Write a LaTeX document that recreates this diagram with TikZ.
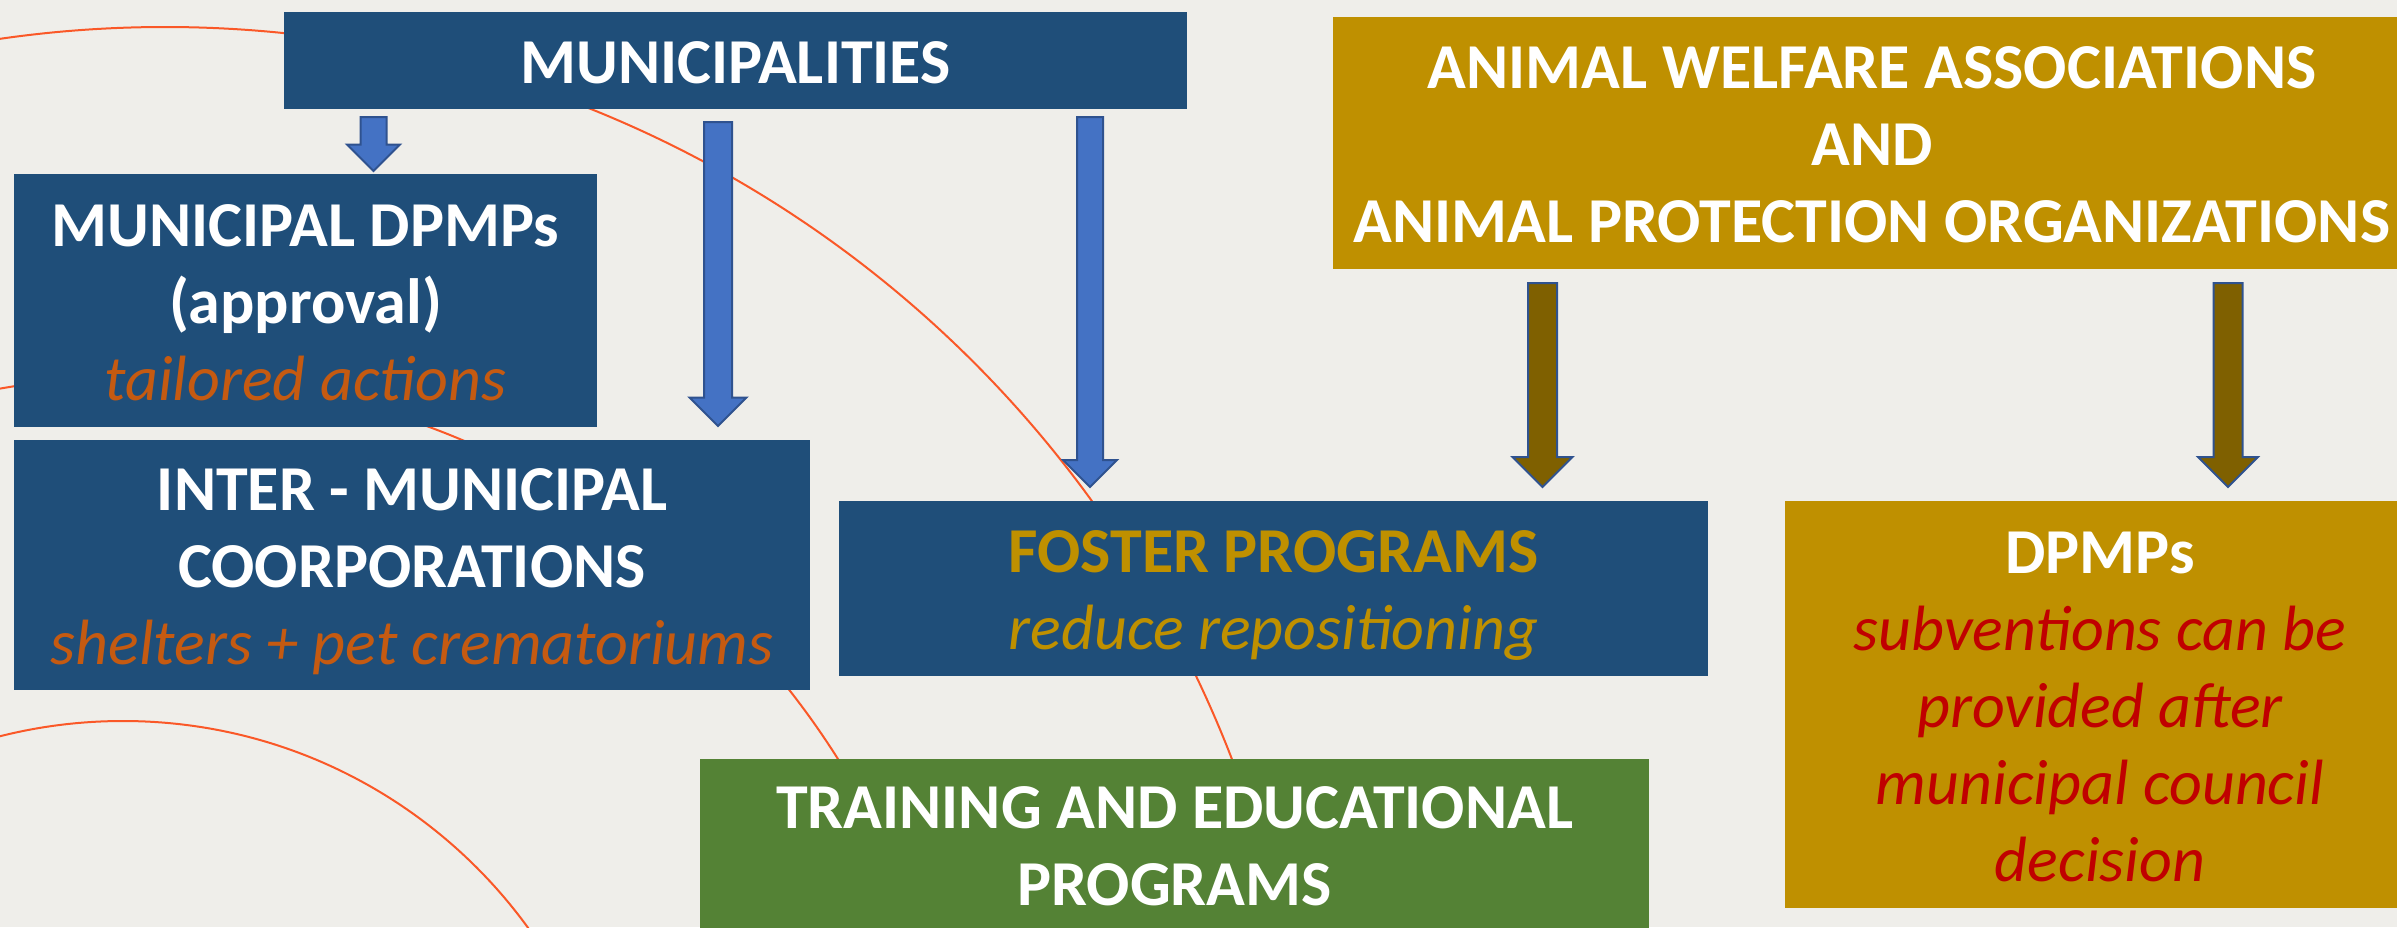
\documentclass[tikz,border=0pt]{standalone}
\usepackage{fontspec}
\setmainfont{Carlito}
\definecolor{bgcol}{RGB}{239,238,234}
\definecolor{dblue}{RGB}{31,78,121}
\definecolor{goldc}{RGB}{191,144,0}
\definecolor{greenc}{RGB}{84,130,53}
\definecolor{orangetxt}{RGB}{197,90,17}
\definecolor{redtxt}{RGB}{192,0,0}
\definecolor{arccol}{RGB}{250,88,40}
\definecolor{ablue}{RGB}{68,114,196}
\definecolor{aedge}{RGB}{47,82,143}
\definecolor{abrown}{RGB}{127,96,0}
\newcommand\ls{\rule[-16pt]{0pt}{77pt}}
\newcommand\blockarr[6]{%
  \path[#1] ({#2-#5},#3) -- ({#2+#5},#3) -- ({#2+#5},{#4-#6}) -- ({#2+#6},{#4-#6})
    -- (#2,#4) -- ({#2-#6},{#4-#6}) -- ({#2-#5},{#4-#6}) -- cycle;}
\tikzset{
  box/.style={rectangle, inner sep=0pt, outer sep=0pt, anchor=north west,
    align=center, text=white, font=\fontsize{64}{77}\selectfont\bfseries},
  bluebox/.style={box, fill=dblue},
  goldbox/.style={box, fill=goldc},
  greenbox/.style={box, fill=greenc},
  bgarc/.style={draw=arccol, line width=2pt},
  bluearrow/.style={fill=ablue, draw=aedge, line width=2pt, line join=miter},
  brownarrow/.style={fill=abrown, draw=aedge, line width=2pt, line join=miter},
}
\begin{document}
\begin{tikzpicture}[x=1pt,y=-1pt]
\useasboundingbox (0,0) rectangle (2397,927);
\clip (0,0) rectangle (2397,927);
\fill[bgcol] (0,0) rectangle (2397,927);
% background arcs
\draw[bgarc] (165,1170) circle[radius=1143];
\draw[bgarc] (144,1196) circle[radius=820];
\draw[bgarc] (123,1221) circle[radius=500];
% boxes
\node[bluebox, minimum width=903pt, minimum height=97pt] (muni) at (284,12)
  {\ls MUNICIPALITIES};
\node[bluebox, minimum width=583pt, minimum height=253pt] (mdpmp) at (14,174)
  {\ls MUNICIPAL DPMPs\\ \ls (approval)\\ {\mdseries\itshape\color{orangetxt}\ls tailored actions}};
\node[bluebox, minimum width=796pt, minimum height=250pt] (inter) at (14,440)
  {\ls INTER - MUNICIPAL\\ \ls COORPORATIONS\\ {\mdseries\itshape\color{orangetxt}\ls shelters + pet crematoriums}};
\node[bluebox, minimum width=869pt, minimum height=175pt] (foster) at (839,501)
  {{\color{goldc}\ls FOSTER PROGRAMS}\\ {\mdseries\itshape\color{goldc}\ls reduce repositioning}};
\node[greenbox, minimum width=949pt, minimum height=170pt] (train) at (700,759)
  {\ls TRAINING AND EDUCATIONAL\\ \ls PROGRAMS};
\node[goldbox, minimum width=1078pt, minimum height=252pt] (assoc) at (1333,17)
  {\ls ANIMAL WELFARE ASSOCIATIONS\\ \ls AND\\ \ls ANIMAL PROTECTION ORGANIZATIONS};
\node[goldbox, minimum width=630pt, minimum height=407pt] (dpmp) at (1785,501)
  {\ls DPMPs\\
   {\mdseries\itshape\color{redtxt}\ls subventions can be}\\
   {\mdseries\itshape\color{redtxt}\ls provided after}\\
   {\mdseries\itshape\color{redtxt}\ls municipal council}\\
   {\mdseries\itshape\color{redtxt}\ls decision}};
% block arrows
\blockarr{bluearrow}{373.5}{117}{171}{13}{26.5}
\blockarr{bluearrow}{718}{122}{426}{14}{28.5}
\blockarr{bluearrow}{1090}{117}{487}{13}{27}
\blockarr{brownarrow}{1542.5}{283}{487}{14.5}{30}
\blockarr{brownarrow}{2228}{283}{487}{14.5}{30}
\end{tikzpicture}
\end{document}
